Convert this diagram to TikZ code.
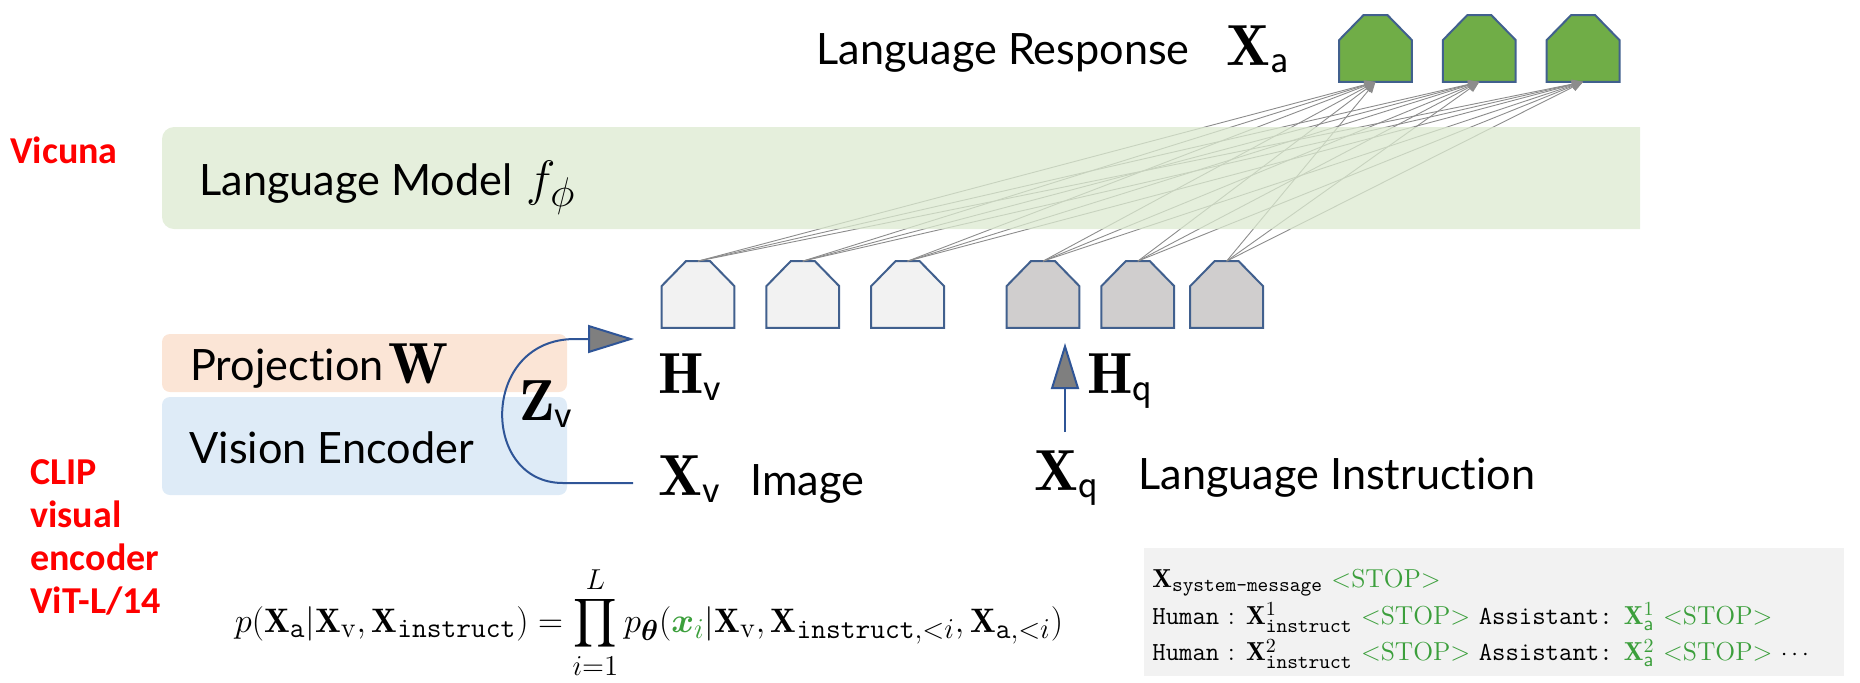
\documentclass[tikz,border=0pt]{standalone}
\usepackage{amsmath}
\usepackage{amssymb}
\usepackage{fontspec}
\newfontfamily\labelfont{Lato}[Ligatures=NoCommon]
\newfontfamily\notefont{Carlito}
\usetikzlibrary{positioning,arrows.meta}
\DeclareMathSizes{17}{17}{14.3}{11}
\DeclareMathSizes{13}{13}{10.2}{8}

\definecolor{tokenedge}{HTML}{41608E}
\definecolor{tokengreen}{HTML}{70AD47}
\definecolor{tokenlight}{HTML}{F2F2F2}
\definecolor{tokengray}{HTML}{D0CECE}
\definecolor{lmband}{HTML}{DCEAD0}
\definecolor{projband}{HTML}{FBE5D6}
\definecolor{encband}{HTML}{DEEBF7}
\definecolor{flowblue}{HTML}{2F5597}
\definecolor{tipgray}{HTML}{7F7F7F}
\definecolor{linkgray}{HTML}{8C8C8C}
\definecolor{stopgreen}{HTML}{3C9F3C}
\definecolor{boxgray}{HTML}{F2F2F2}

\tikzset{
  token/.style={minimum width=36pt, minimum height=33pt, inner sep=0pt},
  link/.style={draw=linkgray, line width=0.45pt, -{Triangle[length=5.5pt,width=4.5pt]}},
  feed/.style={draw=flowblue, line width=1pt, -{Triangle[length=23pt,width=14pt,fill=tipgray]}},
  lbl/.style={inner sep=0pt, font=\labelfont\fontsize{21.6}{26}\selectfont},
  sym/.style={inner sep=0pt, font=\fontsize{29}{34}\selectfont},
  note/.style={inner sep=0pt, text=red, align=left, font=\notefont\bfseries\fontsize{19}{21.5}\selectfont},
}

\begin{document}
\begin{tikzpicture}[x=0.5pt, y=-0.5pt]
    \useasboundingbox (0,0) rectangle (1860,682);

    % vision side
    \fill[projband, rounded corners=4pt] (162,334) rectangle (567,392);
    \fill[encband, rounded corners=4pt] (162,397) rectangle (567,495);

    % tokens
    \node [token] (v1) at (698,294.5) {};
    \node [token] [right=16pt of v1] (v2) {};
    \node [token] [right=16pt of v2] (v3) {};
    \node [token] (q1) at (1043,294.5) {};
    \node [token] [right=11pt of q1] (q2) {};
    \node [token] [right=8pt of q2] (q3) {};
    \node [token] (a1) at (1375.5,48.5) {};
    \node [token] [right=15.5pt of a1] (a2) {};
    \node [token] [right=15.5pt of a2] (a3) {};
    \foreach \t/\c in {v1/tokenlight, v2/tokenlight, v3/tokenlight,
                       q1/tokengray, q2/tokengray, q3/tokengray,
                       a1/tokengreen, a2/tokengreen, a3/tokengreen}
      \filldraw[draw=tokenedge, line width=1pt, fill=\c]
        (\t.south west) -- (\t.south east) -- ([yshift=-12.5pt]\t.north east)
        -- ([xshift=6pt]\t.north) -- ([xshift=-6pt]\t.north)
        -- ([yshift=-12.5pt]\t.north west) -- cycle;

    % every input token feeds every response token
    \foreach \s in {v1,v2,v3,q1,q2,q3}
      \foreach \t in {a1,a2,a3}
        \draw[link] (\s.north) -- (\t.south);

    % language model band, over the links
    \fill[lmband, fill opacity=0.75] (1640,127) -- (174,127)
      arc[start angle=90, end angle=180, radius=6pt] -- (162,217)
      arc[start angle=180, end angle=270, radius=6pt] -- (1640,229) -- cycle;

    % labels
    \node [lbl, anchor=base east] (resp) at (1190,64) {Language Response};
    \node [sym, anchor=base west] (xa) at (1226,65) {$\mathbf{X}_{\mathsf{a}}$};
    \node [lbl, anchor=base west] (lm) at (199,195) {Language Model};
    \node [sym, anchor=base west, font=\fontsize{30}{34}\selectfont] (fphi) at (526,195) {$f_{\phi}$};
    \node [lbl, anchor=base west] (proj) at (190,380) {Projection};
    \node [sym, anchor=base west] (w) at (388,383) {$\mathbf{W}$};
    \node [lbl, anchor=base west] (enc) at (189,463) {Vision Encoder};
    \node [sym, anchor=base west] (zv) at (519,420) {$\mathbf{Z}_{\mathsf{v}}$};
    \node [sym, anchor=base west] (hv) at (658,393) {$\mathbf{H}_{\mathsf{v}}$};
    \node [sym, anchor=base west] (xv) at (658,495) {$\mathbf{X}_{\mathsf{v}}$};
    \node [lbl, anchor=base west] (img) at (750,495) {Image};
    \node [sym, anchor=base west] (hq) at (1087,393) {$\mathbf{H}_{\mathsf{q}}$};
    \node [sym, anchor=base west] (xq) at (1034,490) {$\mathbf{X}_{\mathsf{q}}$};
    \node [lbl, anchor=base west] (instr) at (1138,489) {Language Instruction};

    % arrows into the tokens
    \coordinate (vin) at (633,483);
    \coordinate (vout) at (634,339);
    \draw[feed] (vin) -- (563,483) .. controls (480,483) and (480,339) .. (575,339) -- (vout);
    \coordinate (qin) at (1065,432);
    \coordinate (qout) at (1065,343);
    \draw[feed] (qin) -- (qout);

    % notes
    \node [note, anchor=base west] (vicuna) at (10,163) {Vicuna};
    \node [note, anchor=north west] (clip) at (30,459) {CLIP\\visual\\encoder\\ViT-L/14};

    % objective
    \node [anchor=base, inner sep=0pt, font=\fontsize{17}{20}\selectfont] (loss) at (649,632)
      {$\displaystyle p(\mathbf{X}_{\texttt{a}}|\mathbf{X}_{\mathrm{v}},\mathbf{X}_{\texttt{instruct}})
       =\prod_{i=1}^{L}p_{\boldsymbol{\theta}}({\color{stopgreen}\boldsymbol{x}_i}|\mathbf{X}_{\mathrm{v}},
       \mathbf{X}_{\texttt{instruct},<i},\mathbf{X}_{\texttt{a},<i})$};

    % chat format
    \fill[boxgray] (1144,548) rectangle (1844,676);
    \node [anchor=north west, inner sep=0pt, align=left,
           font=\fontsize{13}{18.25}\selectfont] (chat) at (1152,569)
      {$\mathbf{X}_{\texttt{system-message}}$ \textcolor{stopgreen}{<STOP>}\\
       \texttt{Human} : $\mathbf{X}^{1}_{\texttt{instruct}}$ \textcolor{stopgreen}{<STOP>}
       \texttt{Assistant:} \textcolor{stopgreen}{$\mathbf{X}^{1}_{\mathsf{a}}$ <STOP>}\\
       \texttt{Human} : $\mathbf{X}^{2}_{\texttt{instruct}}$ \textcolor{stopgreen}{<STOP>}
       \texttt{Assistant:} \textcolor{stopgreen}{$\mathbf{X}^{2}_{\mathsf{a}}$ <STOP>} $\cdots$};
\end{tikzpicture}
\end{document}
